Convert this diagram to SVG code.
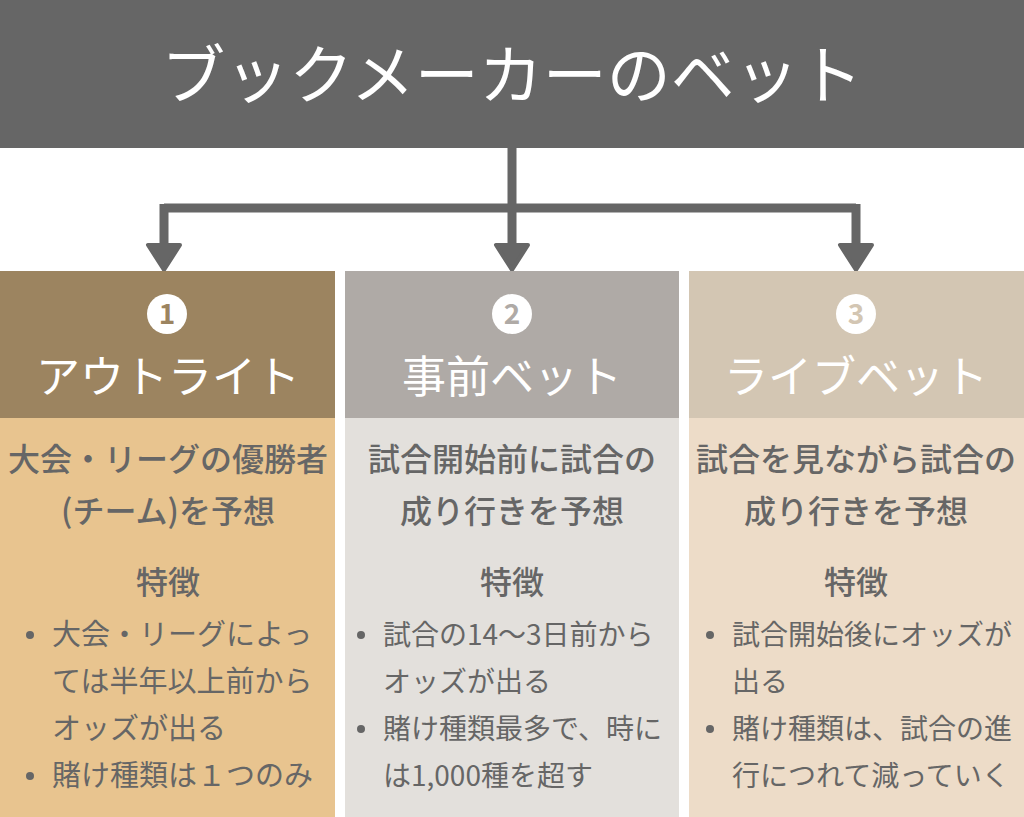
<svg xmlns="http://www.w3.org/2000/svg" xmlns:xlink="http://www.w3.org/1999/xlink" width="1024" height="817" viewBox="0 0 1024 817">
<defs>
<style>
.jp{font-family:"Noto Sans CJK JP","Noto Sans",sans-serif}
.title{font-size:64px;fill:#fff;font-weight:400;text-anchor:middle}
.hd{font-size:44px;fill:#fff;text-anchor:middle}
.num{font-size:28px;font-weight:700;text-anchor:middle}
.sub{font-size:32px;fill:#666;font-weight:500;text-anchor:middle}
.li{font-size:28px;fill:#666}
#node1 .li{font-size:29px}
.dot{fill:#666}
.conn{stroke:#666;stroke-width:9;fill:none}
.ah{fill:#666;stroke:#666;stroke-width:4;stroke-linejoin:round}
</style>
<path id="arrow" d="M-16,0 L16,0 L0,25 Z"/>
</defs>
<rect width="1024" height="817" fill="#fff"/>
<g id="header">
<rect x="0" y="0" width="1024" height="148" fill="#666666"/>
<text class="jp title" x="512" y="98">ブックメーカーのベット</text>
</g>
<g id="connectors">
<path class="conn" d="M512,148 V248 M164,208 H856 M164,204 V248 M856,204 V248"/>
<use xlink:href="#arrow" class="ah" x="164" y="245"/>
<use xlink:href="#arrow" class="ah" x="512" y="245"/>
<use xlink:href="#arrow" class="ah" x="856" y="245"/>
</g>
<g id="node1">
<rect x="0" y="271" width="335" height="147" fill="#9c8460"/>
<rect x="0" y="418" width="335" height="399" fill="#e8c48f"/>
<circle cx="167" cy="314" r="20" fill="#fff"/>
<text class="jp num" x="167" y="324" fill="#9c8460">1</text>
<text class="jp hd" x="168" y="393">アウトライト</text>
<text class="jp sub" x="168" y="471">大会・リーグの優勝者</text>
<text class="jp sub" x="168" y="523">(チーム)を予想</text>
<text class="jp sub" x="168" y="594">特徴</text>
<circle class="dot" cx="30" cy="635" r="4"/>
<text class="jp li" x="52" y="645">大会・リーグによっ</text>
<text class="jp li" x="52" y="692">ては半年以上前から</text>
<text class="jp li" x="52" y="739">オッズが出る</text>
<circle class="dot" cx="30" cy="776" r="4"/>
<text class="jp li" x="52" y="786">賭け種類は１つのみ</text>
</g>
<g id="node2">
<rect x="345" y="271" width="334" height="147" fill="#afaaa6"/>
<rect x="345" y="418" width="334" height="399" fill="#e3e0dc"/>
<circle cx="512" cy="314" r="20" fill="#fff"/>
<text class="jp num" x="512" y="324" fill="#afaaa6">2</text>
<text class="jp hd" x="512" y="393">事前ベット</text>
<text class="jp sub" x="512" y="471">試合開始前に試合の</text>
<text class="jp sub" x="512" y="523">成り行きを予想</text>
<text class="jp sub" x="512" y="594">特徴</text>
<circle class="dot" cx="361" cy="635" r="4"/>
<text class="jp li" x="383" y="645">試合の14〜3日前から</text>
<text class="jp li" x="383" y="692">オッズが出る</text>
<circle class="dot" cx="361" cy="729" r="4"/>
<text class="jp li" x="383" y="739">賭け種類最多で、時に</text>
<text class="jp li" x="383" y="786">は1,000種を超す</text>
</g>
<g id="node3">
<rect x="689" y="271" width="335" height="147" fill="#d3c6b3"/>
<rect x="689" y="418" width="335" height="399" fill="#eddcc8"/>
<circle cx="856" cy="314" r="20" fill="#fff"/>
<text class="jp num" x="856" y="324" fill="#d3c6b3">3</text>
<text class="jp hd" x="856" y="393">ライブベット</text>
<text class="jp sub" x="856" y="471">試合を見ながら試合の</text>
<text class="jp sub" x="856" y="523">成り行きを予想</text>
<text class="jp sub" x="856" y="594">特徴</text>
<circle class="dot" cx="710" cy="635" r="4"/>
<text class="jp li" x="732" y="645">試合開始後にオッズが</text>
<text class="jp li" x="732" y="692">出る</text>
<circle class="dot" cx="710" cy="729" r="4"/>
<text class="jp li" x="732" y="739">賭け種類は、試合の進</text>
<text class="jp li" x="732" y="786">行につれて減っていく</text>
</g>
</svg>
